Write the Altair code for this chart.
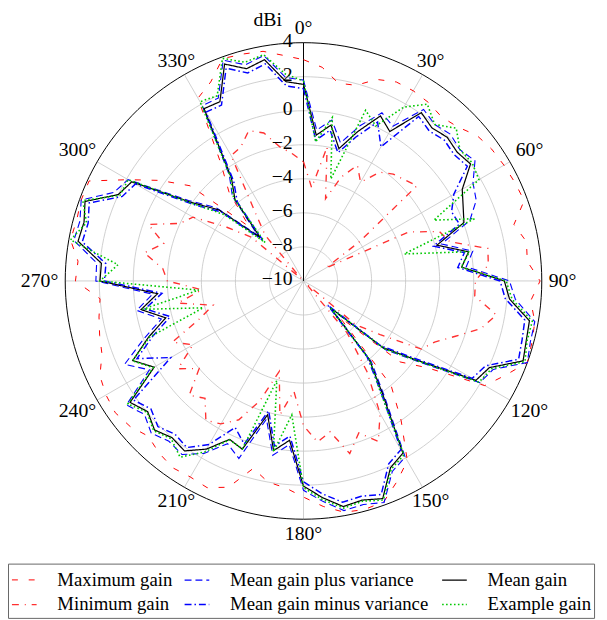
import altair as alt
import pandas as pd

# ---------------- data (dBi, every 5 degrees, clockwise from north) ----------------
angles = list(range(0, 360, 5))

max_gain = [3.0, 2.6, 1.8, 1.9, 2.6, 2.9, 2.9, 2.8, 2.6, 2.8, 3.3, 3.5,
            3.6, 3.7, 3.8, 2.8, 3.3, 3.2, 3.9, 3.4, 3.8, 3.9, 4.0, 3.1,
            2.3, -1.1, -2.6, -7.0, -2.0, 0.0, 2.2, 3.0, 3.8, 3.9, 3.8, 3.3,
            2.7, 2.2, 2.0, 1.4, 2.9, 3.4, 3.3, 3.4, 3.2, 2.9, 3.3, 3.5,
            3.4, 3.2, 2.6, 2.4, 2.2, 2.0, 3.4, 3.3, 3.9, 3.8, 3.9, 3.9,
            1.9, 0.3, -1.3, -5.5, -3.2, -1.5, 2.4, 2.9, 3.9, 3.8, 3.7, 3.3]

min_gain = [-3.0, -4.5, -2.0, -5.0, -3.5, -2.5, -3.3, -2.2, -1.8, -1.6, -1.3, -6.0,
            -8.5, -3.2, -1.5, -1.1, 1.0, 0.9, 0.1, 0.1, 1.5, 0.8, -0.5, -1.5,
            -2.0, -4.5, -6.0, -9.8, -6.0, -3.5, -1.0, 0.4, -0.5, 0.5, -1.0, -0.5,
            -1.5, -3.5, -2.0, -4.5, -2.5, -1.0, -0.3, 0.0, -1.0, -0.5, -2.0, -1.0,
            -2.5, -1.5, -3.5, -4.5, -2.5, -4.0, -2.0, -1.7, -0.5, -1.5, -0.3, -2.0,
            -2.5, -4.5, -6.0, -9.8, -6.5, -5.0, -1.5, -1.3, -0.6, -1.0, -2.0, -2.5]

plus_var = [1.8, -1.1, -0.4, -1.6, -0.3, 0.9, 0.5, 2.3, 2.0, 2.2, 2.0, 2.3,
            1.5, 1.2, 0.4, -1.6, 0.1, -0.4, 2.1, 2.5, 3.8, 3.8, 4.0, 2.3,
            1.95, -1.7, -3.7, -7.6, -3.8, -1.7, 1.95, 2.35, 3.85, 3.6, 3.7, 3.0,
            2.3, -0.35, 0.4, -1.6, 1.1, 0.55, 1.7, 2.45, 2.3, 2.65, 2.2, 2.7,
            0.45, 1.6, 0.0, -1.35, -0.05, -1.1, 2.2, 2.2, 3.7, 3.6, 3.9, 2.3,
            1.9, -1.75, -3.3, -6.2, -3.5, -2.4, 1.9, 1.85, 3.8, 3.15, 3.45, 2.0]

mean_gain = [1.55, -1.4, -0.7, -1.95, -0.65, 0.7, 0.14, 2.07, 1.74, 1.94, 1.78, 1.98,
             0.77, 0.35, 0.03, -1.88, -0.15, -0.67, 1.8, 2.15, 3.48, 3.55, 3.73, 2.05,
             1.69, -1.9, -3.9, -7.8, -4.0, -1.9, 1.68, 2.1, 3.61, 3.33, 3.46, 2.78,
             2.05, -0.6, 0.12, -1.86, 0.52, 0.27, 1.41, 2.19, 2.02, 2.38, 1.95, 2.44,
             0.13, 1.07, -0.3, -1.62, -0.31, -1.39, 1.96, 1.92, 3.45, 3.35, 3.66, 2.01,
             1.65, -1.97, -3.5, -6.4, -3.73, -2.62, 1.69, 1.62, 3.56, 2.91, 3.2, 1.75]

minus_var = [1.3, -1.7, -1.0, -2.2, -1.0, 0.3, -0.9, 1.8, 1.5, 1.7, 1.55, 1.75,
             0.2, -0.4, -0.25, -2.1, -0.4, -0.9, 1.55, 1.9, 3.2, 3.3, 3.45, 1.8,
             1.45, -2.1, -4.1, -8.0, -4.2, -2.1, 1.45, 1.85, 3.35, 3.1, 3.2, 2.55,
             1.8, -0.85, -0.15, -2.1, 0.2, -0.5, 1.1, 1.95, 1.75, 2.1, 1.7, 2.2,
             -1.0, 0.8, -0.6, -1.9, -0.55, -1.65, 1.7, 1.65, 3.2, 3.1, 3.4, 1.75,
             1.4, -2.2, -3.7, -6.6, -3.95, -2.85, 1.45, 1.4, 3.3, 2.65, 2.95, 1.5]

example_gain = [1.75, -1.8, -0.25, -3.8, 0.67, 0.05, 1.8, 2.68, 2.0, 2.69, 2.0, 2.1,
                1.9, -1.55, 0.7, -3.87, -0.1, -0.7, 1.9, 2.3, 3.65, 3.6, 3.85, 2.2,
                1.9, -1.8, -3.8, -7.8, -3.95, -2.2, 1.8, 2.2, 3.7, 3.4, 3.55, 2.9,
                2.15, -2.1, 0.2, -3.94, 0.5, 0.3, 1.6, 2.64, 2.1, 2.45, 2.0, 2.6,
                0.2, 1.1, -0.4, -3.9, -0.4, -3.82, 1.96, 0.94, 3.9, 3.2, 3.8, 1.9,
                1.9, -2.1, -3.95, -6.8, -3.6, -2.5, 2.16, 2.0, 3.92, 3.3, 3.5, 2.2]

series_names = ["Maximum gain", "Mean gain plus variance", "Mean gain",
                "Minimum gain", "Mean gain minus variance", "Example gain"]
series_values = [max_gain, plus_var, mean_gain, min_gain, minus_var, example_gain]

ring_levels = [-8, -6, -4, -2, 0, 2]
outer_level = [4]
spoke_angles = [30, 60, 90, 120, 150, 180, 210, 240, 270, 300, 330]
label_angles = [0, 30, 60, 90, 120, 150, 180, 210, 240, 270, 300, 330]
label_texts = ["0°", "30°", "60°", "90°", "120°", "150°", "180°", "210°",
               "240°", "270°", "300°", "330°"]
tick_values = [-10, -8, -6, -4, -2, 0, 2, 4]
tick_texts = ["−10", "−8", "−6", "−4", "−2", "0", "2", "4"]

# ---------------- tables ----------------
rows = []
for name, vals in zip(series_names, series_values):
    for a, v in zip(angles + [360], vals + [vals[0]]):
        rows.append({"series": name, "angle": a, "gain": v})
df = pd.DataFrame(rows)

circle_angles = list(range(0, 361, 2))
ring_df = pd.DataFrame([{"level": l, "angle": a} for l in ring_levels for a in circle_angles])
outer_df = pd.DataFrame([{"level": l, "angle": a} for l in outer_level for a in circle_angles])
spoke_df = pd.DataFrame({"angle": spoke_angles})
alabel_df = pd.DataFrame({"angle": label_angles, "text": label_texts})
tick_df = pd.DataFrame({"value": tick_values, "text": tick_texts})

FONT = "Liberation Serif"
SPAN = 14          # -10 .. 4 dBi
PXU = 483 / 28.0   # pixels per dBi
xs = alt.Scale(domain=[-SPAN, SPAN], nice=False, zero=False)
ys = alt.Scale(domain=[-SPAN, SPAN], nice=False, zero=False)


def xy(chart, rexpr):
    return chart.transform_calculate(
        px=f"({rexpr}) * sin(datum.angle * PI / 180)",
        py=f"({rexpr}) * cos(datum.angle * PI / 180)",
    )


X = alt.X("px:Q", scale=xs, axis=None)
Y = alt.Y("py:Q", scale=ys, axis=None)

rings = xy(alt.Chart(ring_df), "datum.level + 10").mark_line(
    color="#c4c4c4", strokeWidth=0.8).encode(x=X, y=Y, order="angle:Q", detail="level:N")

outer = xy(alt.Chart(outer_df), "datum.level + 10").mark_line(
    color="black", strokeWidth=1).encode(x=X, y=Y, order="angle:Q", detail="level:N")

spokes = alt.Chart(spoke_df).transform_calculate(
    x0="0", y0="0",
    x1=f"{SPAN} * sin(datum.angle * PI / 180)",
    y1=f"{SPAN} * cos(datum.angle * PI / 180)",
).mark_rule(color="#c4c4c4", strokeWidth=0.8).encode(
    x=alt.X("x0:Q", scale=xs, axis=None), y=alt.Y("y0:Q", scale=ys, axis=None),
    x2="x1:Q", y2="y1:Q")

axis_line = alt.Chart(tick_df).transform_aggregate(
    lo="min(value)", hi="max(value)"
).transform_calculate(
    x0="0", y0="datum.lo + 10", y1="datum.hi + 10"
).mark_rule(color="black", strokeWidth=1).encode(
    x=alt.X("x0:Q", scale=xs, axis=None), y=alt.Y("y0:Q", scale=ys, axis=None), y2="y1:Q")

ticks = alt.Chart(tick_df).transform_calculate(
    tx="0", ty="datum.value + 10"
).mark_text(font=FONT, fontSize=20, align="right", baseline="middle", dx=-11, dy=-2,
            color="black").encode(
    x=alt.X("tx:Q", scale=xs, axis=None), y=alt.Y("ty:Q", scale=ys, axis=None),
    text="text:N")

# angle labels: anchored just outside the outer circle, pushed out by half their box
alabels = alt.Chart(alabel_df).transform_calculate(
    w="10 * (length(datum.text) - 1) + 8",
    s="abs(sin(datum.angle * PI / 180))",
    c="abs(cos(datum.angle * PI / 180))",
).transform_calculate(
    t="min(datum.w / 2 / max(datum.s, 0.000001), 8 / max(datum.c, 0.000001))",
).transform_calculate(
    rr=f"(248.5 + datum.t) / {PXU}",
).transform_calculate(
    px="datum.rr * sin(datum.angle * PI / 180)",
    py="datum.rr * cos(datum.angle * PI / 180)",
).mark_text(
    font=FONT, fontSize=20, align="center", baseline="middle", color="black"
).encode(x=X, y=Y, text="text:N")

unit = alt.Chart(pd.DataFrame({"t": ["dBi"]})).mark_text(
    font=FONT, fontSize=20, align="center", baseline="middle", color="black"
).encode(x=alt.datum(-2.1, scale=xs), y=alt.datum(15.3, scale=ys), text="t:N")

colors = ["#ff0000", "#0000ff", "#000000", "#ff3030", "#0000ff", "#00c800"]
dashes = [[6, 11], [7, 4], [1, 0], [7, 6, 1, 6], [7, 3, 1.5, 3], [1.6, 2.4]]
widths = [1.0, 1.6, 1.5, 0.9, 1.3, 1.6]

leg = alt.Legend(title=None, orient="none", legendX=-58, legendY=528,
                 direction="horizontal", columns=3, symbolType="stroke",
                 symbolSize=625, symbolStrokeWidth=1.5, labelFont=FONT,
                 labelFontSize=19, labelColor="black", strokeColor="#666",
                 fillColor="white", padding=3, rowPadding=1, columnPadding=9,
                 labelOffset=20, labelLimit=400, cornerRadius=0)

lines = xy(alt.Chart(df), "datum.gain + 10").mark_line(strokeJoin="miter").encode(
    x=X, y=Y, order="angle:Q",
    color=alt.Color("series:N", scale=alt.Scale(domain=series_names, range=colors), legend=leg),
    strokeDash=alt.StrokeDash("series:N", scale=alt.Scale(domain=series_names, range=dashes), legend=leg),
    strokeWidth=alt.StrokeWidth("series:N", scale=alt.Scale(domain=series_names, range=widths), legend=None),
)

chart = alt.layer(rings, spokes, outer, axis_line, lines, ticks, alabels, unit).properties(
    width=483, height=483,
    padding={"left": 58, "top": 31, "right": 58, "bottom": 98},
    autosize="none",
).configure_view(stroke=None)

chart.save("out.html", embed_options={"renderer": "svg", "actions": False})
